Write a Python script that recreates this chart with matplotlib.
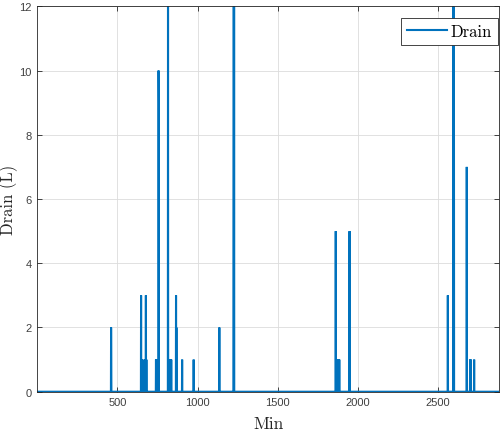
import numpy as np
import matplotlib
matplotlib.use("Agg")
import matplotlib.pyplot as plt

# ---- data ----
minutes = np.arange(1, 2881)
event_minutes = [461, 462,
                 648, 651, 655, 670, 674, 678, 681,
                 741, 745, 749, 753, 757, 758,
                 816, 824, 828, 832, 836,
                 866, 868,
                 904, 976, 1136,
                 1226, 1228,
                 1862, 1866, 1872, 1878, 1884,
                 1946, 1948,
                 2561, 2596, 2599,
                 2679, 2700, 2704, 2725]
event_values = [2, 1,
                3, 1, 1, 1, 1, 3, 1,
                1, 1, 1, 1, 10, 9,
                12, 1, 1, 1, 1,
                3, 2,
                1, 1, 2,
                12, 12,
                5, 1, 1, 1, 1,
                1, 5,
                3, 12, 10,
                7, 1, 1, 1]
drain = np.zeros(len(minutes))
for m, v in zip(event_minutes, event_values):
    drain[m - 1] = v

xticks = [500, 1000, 1500, 2000, 2500]
yticks = [0, 2, 4, 6, 8, 10, 12]

# ---- figure ----
fig = plt.figure(figsize=(5.01, 4.35), dpi=100)
ax = fig.add_axes([0.0745, 0.0972, 0.9215, 0.886])

ax.plot(minutes, drain, color="#0072BD", lw=1.5, label="Drain", solid_joinstyle="miter")
ax.set_xlim(1, 2880)
ax.set_ylim(0, 12)
ax.set_xticks(xticks)
ax.set_yticks(yticks)

ax.grid(True, color="#dcdcdc", lw=0.6)
ax.set_axisbelow(True)
for s in ax.spines.values():
    s.set_color("#262626")
    s.set_linewidth(0.6)
ax.tick_params(direction="in", top=True, right=True, length=3.5, width=0.6,
               color="#262626", labelsize=8, labelcolor="#404040", pad=4)
for lab in ax.get_xticklabels() + ax.get_yticklabels():
    lab.set_fontfamily("Liberation Sans")

ax.set_xlabel("Min", fontfamily="cmr10", fontsize=12.5, va="center", color="#262626")
ax.xaxis.set_label_coords(0.5, -0.081)
ax.set_ylabel("Drain (L)", fontfamily="cmr10", fontsize=12, va="center", color="#262626")
ax.yaxis.set_label_coords(-0.062, 0.5)

leg = ax.legend(loc="upper right", bbox_to_anchor=(0.998, 0.9696), borderaxespad=0,
                prop={"family": "cmr10", "size": 12}, fancybox=False, framealpha=1,
                edgecolor="#262626", handlelength=2.4, handletextpad=0.25,
                borderpad=0.35)
leg.get_frame().set_linewidth(0.6)

fig.savefig("out.png", dpi=100)
